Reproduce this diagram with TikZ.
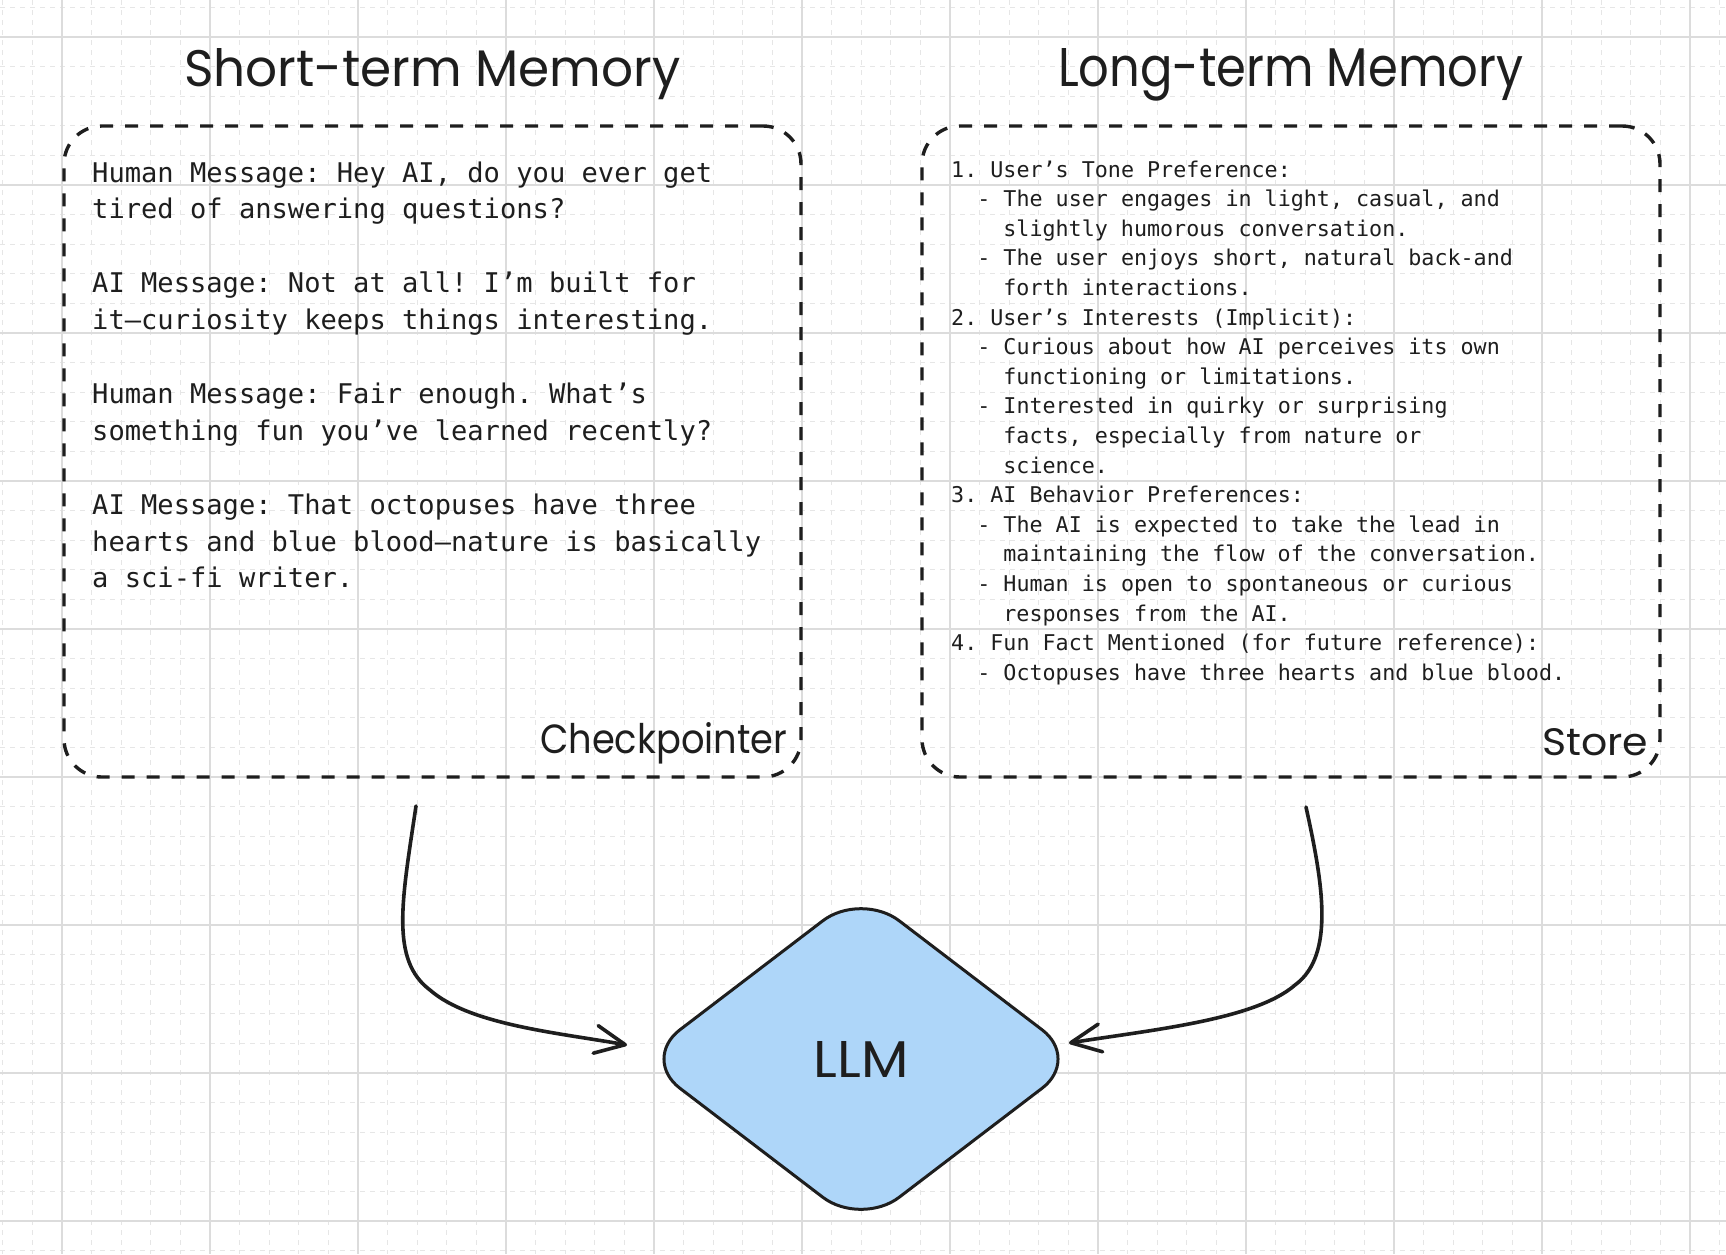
\documentclass[tikz,border=0pt]{standalone}
\usepackage{fontspec}
\newfontfamily\bodymono{DejaVu Sans Mono}
\newfontfamily\handfont{Poppins}
\usetikzlibrary{arrows.meta,shapes.geometric}
\frenchspacing
\definecolor{ink}{HTML}{1E1E1E}
\definecolor{gridmajor}{HTML}{DCDCDC}
\definecolor{gridminor}{HTML}{E6E6E6}
\definecolor{llmfill}{HTML}{AED6F9}
\tikzset{
  minorgrid/.style={draw=gridminor, line width=1pt, dash pattern=on 5pt off 5pt},
  majorgrid/.style={draw=gridmajor, line width=1.5pt},
  memorybox/.style={draw=ink, line width=3.4pt, dash pattern=on 13pt off 12pt, rounded corners=38pt, inner sep=0pt},
  handtext/.style={anchor=base west, inner sep=0pt, text=ink},
  lefttext/.style={anchor=base west, inner sep=0pt, text=ink, font=\bodymono\frenchspacing\fontsize{27.1pt}{37pt}\selectfont},
  righttext/.style={anchor=base west, inner sep=0pt, text=ink, font=\bodymono\frenchspacing\fontsize{21.7pt}{30pt}\selectfont},
  conn/.style={draw=ink, line width=3.6pt, line cap=round, line join=round,
    -{Straight Barb[length=30pt,width=28pt,line width=3.6pt,round]}},
}
\begin{document}
\begin{tikzpicture}[x=1pt,y=-1pt]
\useasboundingbox (0,0) rectangle (1726,1254);
\fill[white] (0,0) rectangle (1726,1254);
% grid
\foreach \i in {0,...,58} \draw[minorgrid] ({2.8+29.6*\i},0) -- ({2.8+29.6*\i},1254);
\foreach \j in {0,...,42} \draw[minorgrid] (0,{7.4+29.6*\j}) -- (1726,{7.4+29.6*\j});
\foreach \i in {0,...,11} \draw[majorgrid] ({62+148*\i},0) -- ({62+148*\i},1254);
\foreach \j in {0,...,8} \draw[majorgrid] (0,{37+148*\j}) -- (1726,{37+148*\j});

% titles
\node[handtext] (titleshort) at (184,86) {\resizebox{496pt}{38pt}{\handfont Short-term Memory}};
\node[handtext] (titlelong) at (1058,86) {\resizebox{465pt}{38pt}{\handfont Long-term Memory}};

% boxes
\node[memorybox, minimum width=737pt, minimum height=651pt] (stm) at (432.5,451.5) {};
\node[memorybox, minimum width=738pt, minimum height=651pt] (ltm) at (1291,451.5) {};

% box labels
\node[handtext] (checkpointer) at (540,753) {\resizebox{247pt}{31pt}{\handfont Checkpointer}};
\node[handtext] (store) at (1542,755) {\resizebox{106pt}{27pt}{\handfont Store}};

% short-term memory text
\foreach \k/\txt in {
  0/{Human Message: Hey AI, do you ever get},
  1/{tired of answering questions?},
  3/{AI Message: Not at all! I’m built for},
  4/{it—curiosity keeps things interesting.},
  6/{Human Message: Fair enough. What’s},
  7/{something fun you’ve learned recently?},
  9/{AI Message: That octopuses have three},
  10/{hearts and blue blood—nature is basically},
  11/{a sci-fi writer.}}
  \node[lefttext] (L\k) at (92,{182+36.9*\k}) {\txt};

% long-term memory text
\foreach \k/\col/\txt in {
  0/0/{1. User’s Tone Preference:},
  1/2/{- The user engages in light, casual, and},
  2/4/{slightly humorous conversation.},
  3/2/{- The user enjoys short, natural back-and},
  4/4/{forth interactions.},
  5/0/{2. User’s Interests (Implicit):},
  6/2/{- Curious about how AI perceives its own},
  7/4/{functioning or limitations.},
  8/2/{- Interested in quirky or surprising},
  9/4/{facts, especially from nature or},
  10/4/{science.},
  11/0/{3. AI Behavior Preferences:},
  12/2/{- The AI is expected to take the lead in},
  13/4/{maintaining the flow of the conversation.},
  14/2/{- Human is open to spontaneous or curious},
  15/4/{responses from the AI.},
  16/0/{4. Fun Fact Mentioned (for future reference):},
  17/2/{- Octopuses have three hearts and blue blood.}}
  \node[righttext] (R\k) at ({951+13.05*\col},{177+29.6*\k}) {\txt};

% LLM diamond
\node[diamond, draw=ink, fill=llmfill, line width=3pt, minimum width=440pt, minimum height=336pt,
      rounded corners=48pt, inner sep=0pt, text=ink] (llm) at (861,1059)
      {\resizebox{95pt}{36pt}{\handfont LLM}};

% connectors
\coordinate (s1) at (416,806);
\coordinate (e1) at (627,1045);
\coordinate (s2) at (1306,807);
\coordinate (e2) at (1069,1043);
\draw[conn] (s1) .. controls (402,900) and (390,960) .. (430,990)
               .. controls (470,1025) and (560,1033) .. (e1);
\draw[conn] (s2) .. controls (1322,880) and (1336,955) .. (1295,985)
               .. controls (1255,1020) and (1150,1030) .. (e2);
\end{tikzpicture}
\end{document}
